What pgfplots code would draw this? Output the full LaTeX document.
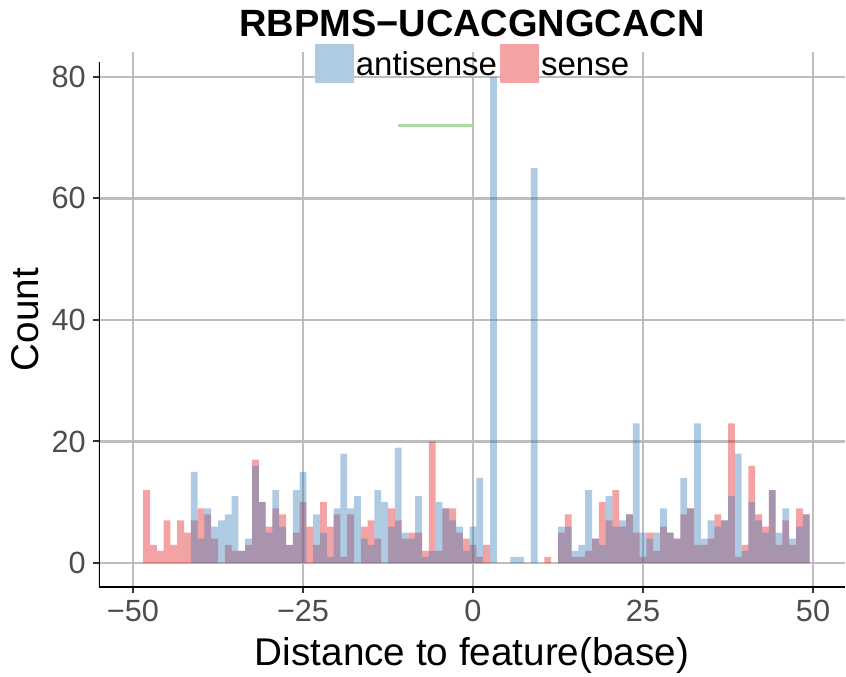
\documentclass[border=0pt]{standalone}
\usepackage{fontspec}
\setmainfont{Liberation Sans}
\usepackage{pgfplots}
\pgfplotsset{compat=1.18}
\usepackage{pgfplotstable}

\definecolor{senseRed}{RGB}{228,26,28}
\definecolor{antiBlue}{RGB}{55,126,184}
\definecolor{senseKey}{RGB}{244,163,164}
\definecolor{antiKey}{RGB}{175,203,227}
\definecolor{gridGray}{RGB}{190,190,190}
\definecolor{labelGray}{RGB}{77,77,77}
\definecolor{tickDark}{RGB}{51,51,51}
\definecolor{segGreen}{RGB}{170,220,162}

% counts per 1-base bin (bin centre = pos)
\pgfplotstableread{
pos count
-48 12
-47 3
-46 2
-45 7
-44 3
-43 7
-42 5
-41 7
-40 9
-39 8
-38 4
-36 3
-35 2
-34 2
-33 3
-32 17
-31 10
-30 6
-29 9
-28 8
-27 3
-26 5
-25 10
-24 6
-23 3
-22 10
-21 6
-20 8
-19 1
-18 8
-16 6
-15 7
-14 4
-12 9
-11 7
-10 4
-9 5
-8 5
-7 2
-6 20
-5 2
-4 9
-3 9
-2 5
-1 4
0 3
1 1
2 3
11 1
13 5
14 8
15 1
16 1
17 2
18 4
19 10
20 7
21 12
22 6
23 8
24 5
25 1
26 5
27 2
28 6
29 5
30 4
31 8
32 9
33 3
34 3
35 4
36 8
37 7
38 23
39 1
40 3
41 16
42 8
43 6
44 12
45 3
46 7
47 3
48 9
49 8
}\sensetab

\pgfplotstableread{
pos count
-41 15
-40 4
-39 9
-38 6
-37 7
-36 8
-35 11
-34 2
-33 4
-32 16
-31 10
-30 5
-29 12
-28 6
-27 3
-26 12
-25 15
-23 8
-22 5
-21 1
-20 9
-19 18
-18 9
-17 11
-16 4
-15 3
-14 12
-13 10
-12 6
-11 19
-10 5
-9 4
-8 11
-7 1
-6 2
-5 10
-4 9
-3 7
-2 6
-1 2
0 6
1 14
3 80
6 1
7 1
9 65
13 6
14 6
15 2
16 3
17 12
18 4
19 3
20 11
21 6
22 7
23 8
24 23
25 5
26 4
27 5
28 9
29 5
30 4
31 14
32 9
33 23
34 4
35 7
36 6
37 7
38 11
39 18
40 2
41 10
42 7
43 5
44 12
45 5
46 9
47 4
48 6
49 8
}\antitab

\begin{document}
\begin{tikzpicture}
\begin{axis}[
  scale only axis,
  width=559.5pt, height=401.25pt,
  xmin=-55, xmax=54.7,
  ymin=-3.95, ymax=84.1,
  xtick={-50,-25,0,25,50},
  xticklabels={−50,−25,0,25,50},
  ytick={0,20,40,60,80},
  yticklabels={0,20,40,60,80},
  tick pos=left,
  tick align=outside,
  major tick length=4.5pt,
  tick style={tickDark, line width=1.5pt},
  grid=major,
  major grid style={gridGray, line width=1.6pt},
  axis line style={draw=none},
  tick label style={font=\fontsize{23}{27}\selectfont, text=labelGray},
  xticklabel style={anchor=base, inner sep=0pt, yshift=-21.5pt},
  yticklabel style={anchor=east, inner sep=0pt, xshift=-5.25pt},
  title={RBPMS−UCACGNGCACN},
  title style={at={(0.5,1)}, anchor=base, yshift=6pt,
    font=\bfseries\fontsize{28.5}{34}\selectfont},
  xlabel={Distance to feature(base)},
  xlabel style={at={(0.5,0)}, anchor=base, yshift=-58.5pt,
    font=\fontsize{29}{34}\selectfont},
  ylabel={Count},
  ylabel style={at={(0,0.5)}, anchor=center, yshift=55.5pt,
    font=\fontsize{29}{34}\selectfont},
  legend columns=2,
  legend cell align=left,
  legend style={at={(0.5,1)}, anchor=north, yshift=6pt,
    draw=none, fill=none, inner sep=0pt, outer sep=0pt,
    font=\fontsize{24.75}{29}\selectfont,
    cells={anchor=base west},
    nodes={inner sep=0pt},
    /tikz/every odd column/.append style={column sep=1.5pt},
    /tikz/every even column/.append style={column sep=2.25pt}},
  keybox/.style={legend image code/.code={
    \fill[##1, draw=none] (0pt,-6pt) rectangle (29.25pt,23.25pt);}},
]
\addlegendimage{keybox, fill=antiKey}
\addlegendentry{antisense}
\addlegendimage{keybox, fill=senseKey}
\addlegendentry{sense}

\addplot[ybar, bar width=1, bar shift=0pt, draw=none,
  fill=senseRed, fill opacity=0.4, forget plot]
  table[x=pos, y=count] {\sensetab};
\addplot[ybar, bar width=1, bar shift=0pt, draw=none,
  fill=antiBlue, fill opacity=0.4, forget plot]
  table[x=pos, y=count] {\antitab};

\addplot[segGreen, line width=2pt, forget plot] coordinates {(-11,72) (0,72)};

\draw[black, line width=1.5pt] (rel axis cs:0,0.981) -- (rel axis cs:0,0) -- (rel axis cs:1,0);
\end{axis}
\pgfresetboundingbox
\path[use as bounding box] ([xshift=-74.25pt, yshift=-66.75pt]current axis.south west)
  rectangle ++(634.5pt,507pt);
\end{tikzpicture}
\end{document}
